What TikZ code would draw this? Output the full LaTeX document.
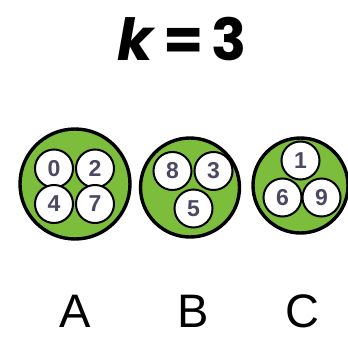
\documentclass[tikz,border=0pt]{standalone}
\usepackage{fontspec}
\setmainfont{Liberation Sans}
\newfontfamily\titlefont{Poppins}
\definecolor{grn}{RGB}{124,190,60}
\definecolor{dig}{RGB}{75,72,98}
\begin{document}
\begin{tikzpicture}[x=1pt,y=-1pt,
  bigc/.style={circle,draw=black,line width=3.4pt,fill=grn,inner sep=0pt,minimum size=#1},
  smallc/.style={circle,draw=black,line width=2pt,fill=white,inner sep=0pt,minimum size=38pt,
    font=\fontsize{23}{23}\selectfont\bfseries,text=dig},
  lab/.style={font=\fontsize{47}{47}\selectfont,anchor=base,inner sep=0pt}]
\useasboundingbox[fill=white] (0,0) rectangle (348,337);
\node[anchor=base,inner sep=0pt,font=\titlefont\fontsize{58}{58}\selectfont\bfseries] (title) at (182,61) {\textit{k}\hspace{8pt}=\hspace{8pt}3};
% A
\node[bigc=110pt] (A) at (75,184) {};
\node[smallc] (a0) at (54,168.5) {0};
\node[smallc] (a2) at (95,168.5) {2};
\node[smallc] (a4) at (54,204) {4};
\node[smallc] (a7) at (95,204) {7};
% B
\node[bigc=99pt] (B) at (190,187.5) {};
\node[smallc] (b8) at (172.5,171) {8};
\node[smallc] (b3) at (213.5,171) {3};
\node[smallc] (b5) at (193.5,208.5) {5};
% C
\node[bigc=95pt] (C) at (300.5,185.5) {};
\node[smallc] (c1) at (300.5,160.5) {1};
\node[smallc] (c6) at (282.5,197.5) {6};
\node[smallc] (c9) at (321.5,197.5) {9};
% labels
\node[lab] (la) at (75,327) {A};
\node[lab] (lb) at (193,327) {B};
\node[lab] (lc) at (302,327) {C};
\end{tikzpicture}
\end{document}
